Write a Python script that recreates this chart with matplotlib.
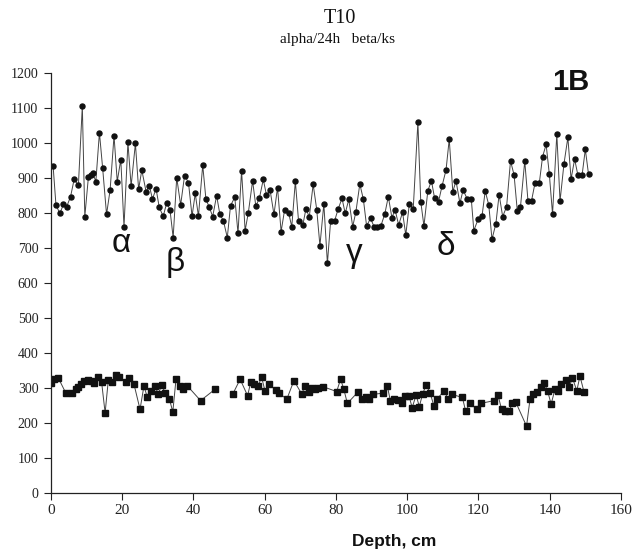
import matplotlib
matplotlib.use("Agg")
import matplotlib.pyplot as plt
import numpy as np

# alpha/24h series (circles), depth in cm
alpha_depth = [
    0.6, 1.4, 2.5, 3.5, 4.4, 5.5, 6.5, 7.7, 8.8, 9.5, 10.5, 11.1, 11.7, 12.6,
    13.6, 14.5, 15.6, 16.6, 17.7, 18.6, 19.6, 20.5, 21.6, 22.5, 23.7, 24.6,
    25.5, 26.7, 27.6, 28.5, 29.5, 30.4, 31.5, 32.5, 33.4, 34.3, 35.3, 36.4,
    37.5, 38.6, 39.6, 40.5, 41.4, 42.6, 43.5, 44.4, 45.4, 46.5, 47.4, 48.4,
    49.5, 50.4, 51.6, 52.5, 53.5, 54.5, 55.4, 56.6, 57.5, 58.5, 59.6, 60.5,
    61.5, 62.6, 63.6, 64.6, 65.6, 66.7, 67.6, 68.6, 69.5, 70.7, 71.6, 72.5,
    73.6, 74.6, 75.5, 76.6, 77.6, 78.5, 79.6, 80.6, 81.7, 82.6, 83.6, 84.7,
    85.6, 86.7, 87.7, 88.6, 89.7, 90.7, 91.6, 92.6, 93.7, 94.7, 95.7, 96.6,
    97.6, 98.7, 99.6, 100.6, 101.7, 103.0, 103.8, 104.7, 105.8, 106.8, 107.7,
    108.8, 109.8, 110.9, 111.8, 112.8, 113.7, 114.8, 115.7, 116.9, 118.0,
    118.7, 119.9, 121.0, 121.9, 122.9, 123.8, 124.9, 125.8, 126.8, 127.9,
    129.0, 130.0, 130.9, 131.8, 133.0, 133.9, 134.9, 135.9, 137.1, 138.0,
    139.0, 139.9, 140.8, 142.0, 142.9, 144.0, 145.1, 146.0, 147.0, 147.9,
    149.1, 150.0, 150.9,
]
alpha_vals = [
    934, 823, 799, 825, 818, 847, 896, 880, 1106, 790, 902, 909, 915, 890,
    1030, 929, 796, 866, 1021, 890, 953, 761, 1002, 877, 999, 868,
    923, 861, 878, 840, 870, 816, 791, 829, 810, 730, 901, 823,
    907, 887, 791, 856, 791, 937, 839, 818, 790, 850, 797, 778,
    730, 821, 845, 742, 921, 750, 801, 892, 820, 842, 896, 851,
    866, 796, 873, 747, 810, 801, 761, 891, 777, 766, 813, 788,
    882, 810, 707, 826, 656, 777, 777, 811, 842, 799, 839, 761,
    804, 883, 839, 763, 785, 761, 759, 763, 797, 847, 787, 809,
    766, 802, 737, 826, 813, 1060, 833, 763, 864, 892, 842,
    833, 878, 923, 1011, 861, 892, 828, 866, 839, 839,
    750, 782, 791, 863, 823, 725, 770, 853, 790, 818,
    949, 909, 807, 818, 949, 835, 835, 887, 887, 961,
    996, 911, 797, 1026, 834, 940, 1016, 897, 954, 909,
    909, 982, 911,
]

# beta/ks series (squares); nan marks the break in the line
beta_depth = [
    0.0, 0.8, 2.1, 4.1, 6.0, 6.9, 7.7, 8.4, 9.3, 10.3, 11.1, 12.1, 13.1, 14.2,
    15.2, 16.1, 17.2, 18.2, 19.1, 21.1, 22.0, 23.3, 25.0, 26.1, 27.0, 28.1,
    29.2, 30.1, 31.1, 32.0, 33.2, 34.2, 35.1, 36.2, 37.1, 38.3, 42.0, 46.0,
    48.5, 51.0, 53.1, 55.2, 56.1, 57.0, 58.2, 59.1, 60.1, 61.2, 63.1, 64.1,
    66.2, 68.2, 70.4, 71.3, 72.3, 73.2, 74.1, 75.0, 76.3, 80.2, 81.3, 82.2,
    83.2, 86.3, 87.2, 88.4, 89.3, 90.3, 93.1, 94.4, 95.3, 96.4, 97.5, 98.4,
    99.4, 100.5, 101.4, 102.5, 103.4, 104.3, 105.3, 106.4, 107.5, 108.4,
    110.4, 111.4, 112.5, 115.5, 116.4, 117.6, 119.5, 120.6, 124.4, 125.5,
    126.5, 127.4, 128.6, 129.5, 130.5, 133.5, 134.5, 135.4, 136.5, 137.5,
    138.5, 139.4, 140.4, 141.5, 142.4, 143.3, 144.5, 145.5, 146.4, 147.6,
    148.5, 149.6,
]
beta_vals = [
    313, 325, 328, 287, 287, 296, 304, 311, 320, 323, 321, 313, 331, 318,
    229, 323, 316, 337, 332, 318, 328, 311, 239, 306, 275, 292,
    306, 283, 309, 287, 270, 232, 325, 306, 296, 306, 264, 296,
    np.nan, 282, 325, 278, 318, 311, 306, 332, 291, 311, 294, 285,
    268, 321, 283, 306, 290, 301, 296, 299, 304, 290, 325, 297,
    256, 290, 268, 273, 270, 282, 285, 306, 263, 270, 266, 256,
    277, 277, 244, 280, 247, 282, 309, 287, 249, 269,
    292, 270, 282, 273, 234, 256, 240, 256, 264, 279,
    239, 235, 235, 256, 259, 191, 270, 282, 290, 302,
    313, 292, 254, 297, 291, 311, 323, 304, 329, 292,
    334, 290,
]

greek_labels = ["α", "β", "γ", "δ"]
greek_x = [19.6, 34.8, 85.1, 110.9]
greek_y = [689, 634, 660, 680]

x_ticks = np.arange(0, 161, 20)
y_ticks = np.arange(0, 1201, 100)

serif = "Liberation Serif"
sans = "Liberation Sans"
ink = "#111111"

W, H = 634, 554
fig = plt.figure(figsize=(W / 100, H / 100), dpi=100)
ax = fig.add_axes([0.0804, 0.1101, 0.899, 0.758])

ax.plot(alpha_depth, alpha_vals, color="#444444", lw=0.7, marker="o",
        ms=3.6, mfc=ink, mec=ink)
ax.plot(beta_depth, beta_vals, color="#444444", lw=0.7, marker="s",
        ms=3.8, mfc=ink, mec=ink)

for lab, gx, gy in zip(greek_labels, greek_x, greek_y):
    ax.text(gx, gy, lab, ha="center", va="baseline", fontsize=24,
            family=sans, color=ink)

# panel tag and titles, placed in figure pixels
fig.text(571 / W, 1 - 90 / H, "1B", ha="center", va="baseline",
         fontsize=21, fontweight="bold", family=sans, color=ink)
fig.text(340 / W, 1 - 22.7 / H, "T10", ha="center", va="baseline",
         fontsize=14.5, family=serif, color=ink)
fig.text(337 / W, 1 - 43.3 / H, "alpha/24h   beta/ks", ha="center",
         va="baseline", fontsize=11, family=serif, color=ink)
fig.text(394 / W, 1 - 546 / H, "Depth, cm", ha="center", va="baseline",
         fontsize=12.5, fontweight="bold", family=sans, color=ink)

ax.set_xlim(0, 160)
ax.set_ylim(0, 1200)
ax.set_xticks(x_ticks)
ax.set_yticks(y_ticks)
ax.set_xticklabels([str(t) for t in x_ticks], family=serif, fontsize=11)
ax.set_yticklabels([str(t) for t in y_ticks], family=serif, fontsize=10)
ax.tick_params(axis="x", direction="out", length=5, width=0.8, pad=3,
               colors="#222222")
ax.tick_params(axis="y", direction="out", length=5, width=0.8, pad=4,
               colors="#222222")

for side in ["top", "right"]:
    ax.spines[side].set_visible(False)
for side in ["left", "bottom"]:
    ax.spines[side].set_linewidth(0.9)
    ax.spines[side].set_color("#222222")

fig.savefig("out.png", dpi=100)
